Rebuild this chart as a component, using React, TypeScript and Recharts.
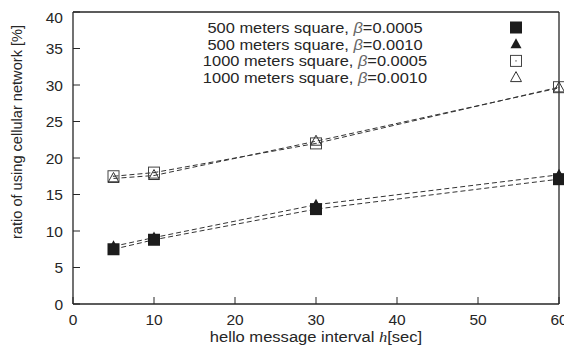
import { LineChart, Line, XAxis, YAxis, Legend } from 'recharts'

const intervals = [5, 10, 30, 60]
const sq500b05 = [7.5, 8.8, 13.0, 17.1]
const tri500b10 = [7.9, 9.1, 13.6, 17.7]
const sq1000b05 = [17.5, 18.0, 22.0, 29.7]
const tri1000b10 = [17.2, 17.6, 22.3, 29.6]

const xTicks = [0, 10, 20, 30, 40, 50, 60]
const yTicks = [0, 5, 10, 15, 20, 25, 30, 35, 40]

const series = [
  { key: 'a', size: '500', beta: '0.0005', kind: 'sqFill' },
  { key: 'b', size: '500', beta: '0.0010', kind: 'triFill' },
  { key: 'c', size: '1000', beta: '0.0005', kind: 'sqOpen' },
  { key: 'd', size: '1000', beta: '0.0010', kind: 'triOpen' },
]

const data = intervals.map((h, i) => ({
  h,
  a: sq500b05[i],
  b: tri500b10[i],
  c: sq1000b05[i],
  d: tri1000b10[i],
}))

const FONT = '"Liberation Sans", Arial, Helvetica, sans-serif'
const INK = '#262626'

function Marker({ cx, cy, kind }: { cx: number; cy: number; kind: string }) {
  if (kind === 'sqFill') {
    return <rect x={cx - 6} y={cy - 6} width={12} height={12} fill="#1c1c1c" />
  }
  if (kind === 'triFill') {
    return <polygon points={`${cx},${cy - 6} ${cx - 5.5},${cy + 4} ${cx + 5.5},${cy + 4}`} fill="#1c1c1c" />
  }
  if (kind === 'sqOpen') {
    return (
      <g>
        <rect x={cx - 5.5} y={cy - 5.5} width={11} height={11} fill="none" stroke="#444" strokeWidth={1} />
        <rect x={cx - 0.6} y={cy - 0.6} width={1.2} height={1.2} fill="#444" />
      </g>
    )
  }
  return (
    <polygon
      points={`${cx},${cy - 6} ${cx - 5.5},${cy + 4} ${cx + 5.5},${cy + 4}`}
      fill="none"
      stroke="#333"
      strokeWidth={1}
    />
  )
}

function LegendBox() {
  return (
    <svg width={560} height={90} style={{ display: 'block' }}>
      {series.map((s, i) => {
        const base = 25 + i * 16.7
        return (
          <g key={s.key}>
            <text
              transform={`translate(307 ${base}) scale(1.14 1)`}
              x={0}
              y={0}
              textAnchor="middle"
              fontSize={14.4}
              fontFamily={FONT}
              fill={INK}
            >
              {s.size} meters square, <tspan fontStyle="italic" fill="#666">β</tspan>=
              {s.beta}
            </text>
            <Marker cx={508} cy={base - 5.5} kind={s.kind} />
          </g>
        )
      })}
    </svg>
  )
}

const YLabel = (props: any) => {
  const vb = props.viewBox || { x: 0, y: 0, height: 0 }
  const cx = 9
  const cy = vb.y + vb.height / 2 - 26
  return (
    <text
      x={cx}
      y={cy}
      transform={`rotate(-90 ${cx} ${cy})`}
      textAnchor="middle"
      dominantBaseline="central"
      fontSize={14.6}
      fontFamily={FONT}
      fill={INK}
    >
      ratio of using cellular network [%]
    </text>
  )
}

const XLabel = (props: any) => {
  const vb = props.viewBox || { x: 0, y: 0, width: 0, height: 0 }
  const cx = vb.x + vb.width / 2
  return (
    <text
      transform={`translate(${cx} 334) scale(1.15 1)`}
      x={0}
      y={0}
      textAnchor="middle"
      fontSize={14.4}
      fontFamily={FONT}
      fill={INK}
    >
      hello message interval <tspan fontStyle="italic" fontFamily='"Liberation Serif", serif'>h</tspan>[sec]
    </text>
  )
}

export default function App() {
  const tickStyle = { fontSize: 15.5, fill: INK, fontFamily: FONT }
  const axisLine = { stroke: INK, strokeWidth: 1.3 }
  return (
    <div style={{ width: 560, height: 345, fontFamily: FONT }}>
      <LineChart width={560} height={345} data={data} margin={{ top: 0, right: 0, bottom: 19, left: 20 }}>
        <XAxis
          dataKey="h"
          type="number"
          domain={[0, 60]}
          ticks={xTicks}
          tickSize={-7}
          tickMargin={17}
          tick={tickStyle}
          tickLine={{ stroke: INK }}
          axisLine={axisLine}
          height={30}
          label={<XLabel />}
        />
        <XAxis
          xAxisId="top"
          orientation="top"
          type="number"
          domain={[0, 60]}
          ticks={xTicks}
          tickSize={-7}
          tick={false}
          tickLine={{ stroke: INK }}
          axisLine={axisLine}
          height={4}
        />
        <YAxis
          type="number"
          domain={[0, 40]}
          ticks={yTicks}
          tickSize={-7}
          tickMargin={17}
          tick={tickStyle}
          tickLine={{ stroke: INK }}
          axisLine={axisLine}
          width={45}
          label={<YLabel />}
        />
        <YAxis
          yAxisId="right"
          orientation="right"
          type="number"
          domain={[0, 40]}
          ticks={yTicks}
          tickSize={-7}
          tick={false}
          tickLine={{ stroke: INK }}
          axisLine={axisLine}
          width={9}
        />
        <Legend
          layout="vertical"
          align="center"
          verticalAlign="middle"
          wrapperStyle={{ position: 'absolute', top: 0, left: 0, width: 560, height: 90 }}
          content={() => <LegendBox />}
        />
        {series.map((s) => (
          <Line
            key={s.key}
            dataKey={s.key}
            stroke="#333"
            strokeWidth={1}
            strokeDasharray="5 3"
            isAnimationActive={false}
            dot={(p: any) => <Marker key={`${s.key}-${p.index}`} cx={p.cx} cy={p.cy} kind={s.kind} />}
            activeDot={false}
          />
        ))}
      </LineChart>
    </div>
  )
}
